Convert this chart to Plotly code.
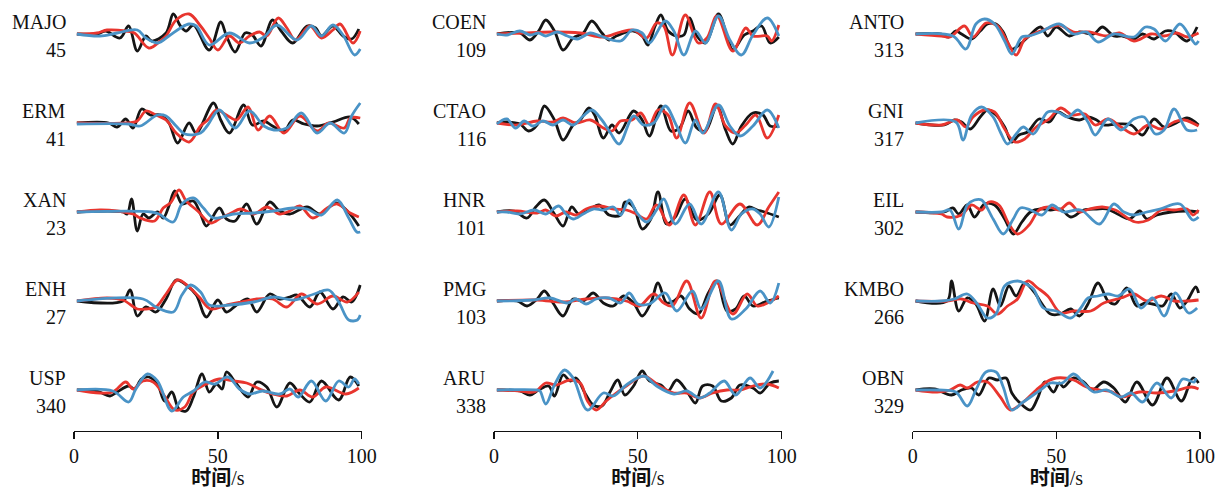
import plotly.graph_objects as go

# ---------------- data (time in s, normalised amplitude) ----------------
columns = [["MAJO", "ERM", "XAN", "ENH", "USP"],
           ["COEN", "CTAO", "HNR", "PMG", "ARU"],
           ["ANTO", "GNI", "EIL", "KMBO", "OBN"]]
azimuths = {"MAJO": "45", "ERM": "41", "XAN": "23", "ENH": "27", "USP": "340",
            "COEN": "109", "CTAO": "116", "HNR": "101", "PMG": "103", "ARU": "338",
            "ANTO": "313", "GNI": "317", "EIL": "302", "KMBO": "266", "OBN": "329"}
x_ticks = [0, 50, 100]
x_title = "<b>时间</b>/s"

MAJO_obs = [(1,0),(8,0),(11,3),(16,-4),(19,8),(22,-17),(25,-2),(27,-7),(32,1),(34.5,20),(37,8),(39,3),(41.5,9),(47,-16),(51,12),(53,-2),(56,-18),(59.5,1),(62,-1),(65,-12),(69,14),(72,3),(76,-9),(81,8),(84,6),(86,-2),(90,8),(93.5,-2),(96.5,-5),(99,5)]
MAJO_syn1 = [(1,0),(8,1),(11.5,4),(18,3),(21,1),(26,-14),(30,-7),(32,-2),(35.5,14),(40,20),(44,8),(47,-4),(50,-16),(54,-2),(57.5,-9),(61,-2),(64.5,2),(67,-2),(71,16),(74,6),(77,-6),(82,8),(86,-4),(90,4),(92.5,10),(97,-9),(99.5,3)]
MAJO_syn2 = [(1,0),(9,-2),(15,1),(22,4),(25,-4),(29,-9),(33,-2),(37,6),(40,10),(42.5,8),(47,-11),(54,1),(61,-9),(66,-3),(70.5,9),(77.5,-6),(82.5,8),(86,-2),(90,9),(93.5,-1),(97.5,-21),(99.5,-15)]

ERM_obs = [(1,0),(12,0),(15,-4),(18,4),(20.5,-5),(23.5,14),(26.5,8),(30,8),(33,0),(36,-20),(40,0),(42.5,-10),(48.5,20),(51,3),(54,-10),(59,18),(62,-2),(66,2),(69,-3),(73,-8),(76,3),(80,-1),(84.5,-3),(90,1),(96,6),(99,-1)]
ERM_syn1 = [(1,0),(18,0),(22,2),(25,12),(28.5,8),(32,3),(35.5,-10),(40,-19),(44,-3),(46.5,3),(49.5,13),(53,8),(56.5,3),(60.5,16),(64,-7),(68,7),(73,-10),(78.5,7),(84.5,-8),(88.5,0),(94,-5),(96,5),(99.5,5)]
ERM_syn2 = [(1,-1),(19,-1),(23,-3),(29,8),(32,7),(35.5,-3),(38.5,-11),(44,-10),(46.5,-2),(50.5,13),(56,-5),(61,12),(66,-3),(69.5,-7),(74,-5),(79,10),(84.5,-10),(89,0),(94,-10),(96.5,7),(99.5,20)]

XAN_obs = [(1,0),(17,0),(18.5,-2),(20,13),(22,-19),(24,-2),(26,-6),(29,0),(31,-6),(33,6),(35,21),(37.5,8),(39,9),(41.5,11),(44,-2),(46,-14),(50.5,4),(53,-7),(56,-9),(60,8),(63.5,-12),(68,10),(71.5,1),(75,-2),(81,5),(85.5,-2),(91,9),(95,1),(99,-14)]
XAN_syn1 = [(1,0),(9,2),(15,1),(20.5,-2),(23,-6),(28,-9),(31,4),(33.5,9),(36.5,22),(39,11),(43,1),(47.5,-11),(51,-6),(54,-2),(58,3),(62.5,-2),(67,5),(71.5,-2),(75,1),(78.5,6),(83,-6),(88,4),(91.5,8),(96,-1),(99,-5)]
XAN_syn2 = [(1,0),(27,0),(29.5,-2),(34.5,-10),(37.5,8),(41.5,14),(45,4),(48.5,-6),(55.5,-2),(62.5,-1),(69.5,1),(76,4),(81,3),(86,-3),(91.5,12),(95.5,-6),(98.3,-20),(99.5,-20)]

ENH_obs = [(1,0),(17,0),(19.5,11),(22,-15),(25,-6),(28.5,-11),(32,2),(35.5,21),(39,16),(42.5,6),(46,-16),(50,1),(53,-11),(56.5,-4),(60.5,2),(63.5,-11),(68,7),(71.5,2),(75,4),(77.5,6),(82,-6),(85.5,9),(90,-8),(93.5,4),(96.5,-1),(99.5,16)]
ENH_syn1 = [(1,0),(11.5,3),(17,1),(22,-8),(25,-8),(28.5,-6),(32,7),(36,21),(40,14),(43.5,4),(47.5,-8),(53,-4),(58,-1),(63.5,2),(69,2),(74,-6),(79,7),(84.5,-3),(90,5),(95,-1),(99,9)]
ENH_syn2 = [(1,0),(24,2),(28.5,-6),(34.5,-11),(37.5,6),(40.5,16),(44,9),(47,-4),(54,-4),(62.5,-1),(69.5,4),(76.5,1),(83.5,7),(88.5,11),(92,-1),(95.5,-19),(98.5,-19),(99.5,-14)]

USP_obs = [(1,0),(8,-1),(12.5,-6),(15,-2),(19,4),(21,1),(23.5,11),(26,13),(29,6),(31.5,-11),(34,-2),(36.5,-19),(39,-21),(41.5,-7),(44.5,16),(47,-2),(49.5,6),(51.5,1),(53,18),(56.5,6),(60.5,-7),(63.5,8),(67,3),(70.5,-17),(75,7),(78.5,-4),(82,-12),(86,9),(92,-10),(96,13),(99,4)]
USP_syn1 = [(1,0),(9,-3),(13.5,-2),(18,8),(20.5,1),(24,9),(27.5,8),(31,-4),(35,-20),(38.5,-17),(41.5,-2),(46,6),(50.5,11),(55.5,9),(60,7),(64.5,1),(69,-4),(74,-6),(78.5,0),(83,-7),(87.5,3),(94.5,-4),(99,2)]
USP_syn2 = [(1,0),(13.5,-1),(19,-12),(21.5,1),(25.5,16),(29,9),(34,-21),(38,-7),(41.5,-1),(45.5,8),(49,6),(53.5,13),(57.5,1),(61,-4),(65.5,-1),(71.5,-4),(75,1),(78,-7),(82.5,9),(87.5,-11),(92,9),(95.5,3),(97.5,11),(99,6)]

COEN_obs = [(1,0),(9,1),(12.5,-6),(15.5,3),(18,14),(21,3),(24,-16),(27.5,-4),(31,1),(34,13),(37.5,1),(40,-6),(42.5,-2),(48.5,3),(51.5,-2),(53.5,-11),(56,8),(58,19),(60.5,3),(63.5,-2),(66,-1),(68,16),(70.5,-2),(73.5,-9),(78,20),(81,-2),(83,-16),(87,-1),(90,3),(93,8),(96,-9),(99,-3)]
COEN_syn1 = [(1,0),(10,1),(20,2),(30,1),(38,-3),(44,2),(48.5,4),(53,-4),(56.5,11),(59,8),(62,-21),(66.5,19),(71,-9),(74,-4),(77.5,18),(83,-17),(87.5,6),(90,-2),(95,-2),(96.5,-7),(99,9)]
COEN_syn2 = [(1,0),(4.5,-1),(9,3),(12.5,-1),(15.5,1),(18,-2),(22,2),(25.5,-2),(29,-5),(33.5,1),(37,-2),(44,-7),(48,4),(51.5,1),(54,-9),(59.5,13),(62.5,3),(66,-21),(70,3),(73.5,-9),(78,18),(82,-6),(86,-21),(90,-1),(95,16),(99,-2)]

CTAO_obs = [(1,0),(4.5,1),(9,-1),(12,-8),(15,-2),(17.5,17),(21,3),(24,-17),(27.5,-2),(30,3),(33,15),(35,8),(38,-15),(41,-2),(43.5,-10),(48.5,12),(51.5,3),(54,-13),(58,17),(61.5,-8),(64.5,-5),(67.5,12),(70.5,-5),(73.5,-8),(77.5,17),(80.5,-7),(83,-21),(86,-3),(90,10),(93.5,8),(96,-3),(99,-3)]
CTAO_syn1 = [(1,0),(8,-2),(15,2),(20.5,1),(24,5),(28.5,0),(33.5,3),(38,-5),(41,-8),(44,2),(48,3),(51,10),(54,-2),(57,13),(60.5,8),(63.5,-15),(68,20),(73,-10),(77,19),(80.5,-3),(84,-10),(87.5,-2),(91,8),(95,-15),(99,8)]
CTAO_syn2 = [(1,-1),(4.5,4),(7.5,-5),(10.5,2),(13.5,-3),(17,2),(20.5,-2),(24,3),(27.5,-2),(31,7),(34,13),(37.5,3),(40.5,-10),(43.5,-21),(48.5,7),(52,-2),(55.5,0),(59.5,17),(63.5,-3),(66.5,-20),(70,3),(72.5,-10),(78,18),(82,-3),(85.5,-13),(90,-3),(95,13),(99,-5)]

HNR_obs = [(1,0),(7,1),(11.5,-6),(14.5,5),(17.5,12),(21,-2),(24,-14),(27,5),(29.5,-2),(33,2),(36.5,7),(40,-3),(44,-3),(45.5,10),(48.5,5),(51.5,-17),(54.5,-7),(57,20),(60,-12),(63,-5),(66.5,13),(70.5,-8),(74.5,-2),(78.5,17),(82,-13),(85,-5),(88.5,5),(91.5,2),(94,0),(99,-5)]
HNR_syn1 = [(1,0),(8,1),(15,-1),(18,2),(21.5,-4),(25,0),(28.5,-3),(32,3),(37,6),(41.5,3),(46,2),(49.5,-2),(53,-7),(56.5,7),(61,-13),(66,17),(70,-13),(75,20),(79,-12),(85.5,8),(91.5,-13),(95.5,5),(99,20)]
HNR_syn2 = [(1,0),(4.5,0),(9,-2),(14,2),(18,-2),(22.5,6),(25,-2),(27.5,-7),(31,-2),(34.5,3),(38,2),(41.5,5),(44,-3),(47,12),(49.5,0),(53,-10),(56.5,2),(59,13),(63,-12),(68,8),(72,-12),(78,20),(82.5,-18),(86,-2),(90,3),(92.5,-2),(95.5,-15),(99,15)]

PMG_obs = [(1,0),(8,0),(11.5,-5),(15,2),(17.5,10),(20.5,-2),(24,-15),(27.5,2),(31,0),(34.5,8),(38,-2),(41.5,-5),(45,5),(48.5,-2),(51.5,-15),(54.5,-2),(57,18),(60,-2),(62.5,0),(65,5),(68,-8),(71,-13),(74.5,8),(77.5,20),(81,-10),(84,-8),(87,5),(90,-5),(95,0),(99,3)]
PMG_syn1 = [(1,0),(15,1),(24,-1),(32,2),(39,3),(46,0),(50.5,-5),(55.5,7),(59,-2),(62,-5),(67,20),(72,-17),(77,20),(83,-13),(88,7),(91.5,-5),(95,-2),(99,5)]
PMG_syn2 = [(1,0),(13.5,1),(19.5,3),(25.5,-2),(28.5,2),(32,-3),(35.5,2),(40,3),(44,-2),(47,8),(50,-3),(54,-3),(59.5,8),(63.5,-10),(69,10),(72,-8),(78,20),(82.5,-18),(87.5,-8),(92.5,10),(96,-2),(99,18)]

ARU_obs = [(1,0),(9,-1),(12.5,-5),(15.5,0),(19,4),(21,-6),(24,15),(26.5,9),(28.5,12),(32,-5),(34.5,-15),(37.5,-16),(40.5,-1),(43,10),(45.5,-5),(48.5,4),(51.5,19),(54,9),(58,5),(60.5,-1),(63.5,10),(67,-1),(70,-13),(72.5,4),(76,4),(79,-11),(82.5,-8),(85.5,5),(90,2),(92.5,-3),(96,7),(99,9)]
ARU_syn1 = [(1,0),(9,-1),(14,-2),(18,7),(21.5,5),(26.5,10),(30,7),(32.5,-11),(35.5,-20),(39,-11),(42.5,-3),(46,4),(52,14),(57.5,4),(62.5,-3),(67,-3),(71.5,-8),(76,-3),(81,0),(85.5,0),(90,4),(95,6),(99,2)]
ARU_syn2 = [(1,0),(15,0),(16,-1),(18,-14),(21,5),(24.5,20),(27.5,12),(32.5,-20),(38,-3),(41.5,-6),(46,5),(52,14),(56.5,4),(62.5,-4),(67,-1),(71.5,-8),(75,-3),(80,9),(84,-5),(89,12),(92.5,2),(97,19)]

ANTO_obs = [(1,0),(10,0),(12.5,-3),(15,3),(17,0),(20.5,-5),(23.5,3),(26,10),(29,10),(31.5,2),(34.5,-15),(37.5,-10),(40.5,-2),(44.5,7),(47,-2),(50,7),(54.5,-2),(58,2),(63,0),(66,7),(70,-2),(73,-2),(77,-5),(80,0),(84,-5),(88,3),(91,2),(95.5,-7),(99,7)]
ANTO_syn1 = [(1,0),(10,-2),(13,-3),(18,8),(21,-3),(25.5,11),(29.5,8),(33,-8),(36,-21),(39,-5),(42,0),(46.5,5),(51,9),(56,2),(61.5,2),(67.5,-2),(72,1),(77,-7),(83,0),(87.5,-2),(92,1),(95.5,-3),(99.5,1)]
ANTO_syn2 = [(1,0),(14,-2),(18.5,-15),(22,10),(25,15),(28.5,10),(32,-7),(34.5,-20),(38,-3),(40.5,-2),(44.5,2),(51,10),(56,0),(60.5,2),(64.5,-8),(70,0),(77,-3),(81,7),(84,5),(88,-7),(93,10),(97,-5),(98.5,-10),(99.5,-7)]

GNI_obs = [(1,0),(11,-2),(14.5,3),(17,1),(20,-6),(23.5,6),(26,13),(29,8),(32,-4),(34.5,-19),(37,-12),(40,-9),(44,4),(47.5,1),(50.5,11),(54,6),(58,3),(61,6),(64,3),(66.5,-2),(71,-1),(76,-2),(80,-12),(84,4),(87.5,-4),(91,-1),(95.5,5),(99.5,-2)]
GNI_syn1 = [(1,0),(10,-2),(15.5,3),(18.5,-4),(21,6),(25,13),(28.5,11),(32,-6),(35.5,-19),(39,-16),(43,-4),(47.5,4),(51.5,15),(55.5,8),(60,9),(63.5,-2),(68,4),(72.5,-4),(77,-11),(82,-2),(86.5,-6),(91,1),(94.5,3),(99.5,-3)]
GNI_syn2 = [(1,0),(15,1),(17.5,-17),(20.5,8),(24,16),(28,6),(30.5,-9),(33,-21),(36,-11),(38.5,-4),(42,-11),(47,11),(50.5,11),(54,6),(57.5,13),(61,1),(63.5,-12),(68,4),(72.5,-7),(77,4),(80.5,6),(84.5,-11),(87.5,-7),(91,14),(95.5,-7),(99,-7)]

EIL_obs = [(1,0),(11,0),(14,4),(16,-2),(19,7),(21.5,-5),(25,8),(28.5,7),(32,-7),(35,-22),(38,-10),(41,0),(44.5,3),(48,2),(51.5,3),(55,-5),(59.5,2),(64,3),(67.5,3),(72,-3),(75.5,-7),(79,1),(81.5,-7),(85,-3),(90,0),(95.5,1),(99.5,0)]
EIL_syn1 = [(1,0),(10,-2),(12,-5),(17,-3),(20.5,7),(24,2),(26.5,10),(30,7),(33.5,-12),(36.5,-22),(40.5,-13),(44,2),(47.5,5),(51,2),(54.5,9),(58,0),(61.5,3),(66,5),(70.5,2),(77.5,-10),(82,-8),(86.5,2),(91,2),(95.5,3),(97.5,-3),(99.5,2)]
EIL_syn2 = [(1,0),(10,0),(13,2),(16,-17),(19,7),(21.5,12),(24,12),(28,-7),(31.5,-22),(35,-7),(37.5,4),(41,2),(45,-3),(48.5,7),(52.5,0),(58.5,2),(65,-12),(70,8),(73.5,0),(77,-3),(81.5,0),(86,3),(93,8),(97.5,-8),(99.5,-5)]

KMBO_obs = [(1,0),(12,0),(13.5,20),(16,-10),(19,3),(22,-3),(25,-20),(28,12),(30.5,-5),(33.5,15),(36,5),(39,18),(42,10),(45.5,-5),(48,-13),(51.5,-13),(55,-8),(58,-15),(61,-3),(64.5,18),(68,0),(70.5,-3),(74.5,13),(78,-5),(81,-2),(83.5,-3),(87,-5),(90,7),(93,-7),(95.5,0),(98.5,14),(99.5,8)]
KMBO_syn1 = [(1,0),(12,0),(17,2),(21,-2),(26,-5),(29.5,-13),(33,-5),(36.5,2),(40,20),(43.5,13),(47,5),(51.5,-12),(56,-10),(62,-10),(66.5,-2),(72.5,3),(77,7),(81.5,0),(86.5,5),(91,0),(95.5,0),(99.5,1)]
KMBO_syn2 = [(1,0),(10,0),(14.5,2),(19,7),(22.5,-3),(26,-17),(29,-13),(32,15),(36.5,20),(39.5,17),(42,12),(45.5,-7),(50,-10),(55,-17),(58.5,-7),(61,3),(64.5,5),(68,7),(71.5,5),(75.5,12),(79.5,-7),(83.5,3),(87.5,-15),(91.5,8),(96,-12),(99,-7)]

OBN_obs = [(1,0),(7.5,1),(13.5,-5),(17,0),(20.5,2),(23,-5),(26.5,12),(29.5,10),(32.5,12),(34.5,-3),(37,-12),(41,-20),(43.5,-8),(46,8),(49,-2),(51,7),(52.5,3),(56,12),(59.5,8),(62.5,0),(66.5,8),(70,2),(74,-12),(78,8),(83.5,-15),(88.5,12),(93.5,-11),(97.5,12),(99.5,7)]
OBN_syn1 = [(1,0),(8.5,-2),(13,0),(16.5,5),(19,2),(22.5,8),(26,8),(30.5,-7),(34,-20),(38.5,-12),(43,0),(46.5,8),(50,12),(56,10),(60.5,3),(65,0),(69.5,-2),(72.5,-7),(79,-2),(85,-3),(91,-1),(97,3),(99.5,1)]
OBN_syn2 = [(1,0),(9,0),(15,-2),(19,-16),(22,0),(25.5,18),(29,18),(31.5,3),(34.5,-20),(38,-13),(41,-7),(44.5,0),(48,7),(52,7),(56,16),(59.5,7),(63,-2),(67.5,0),(72.5,-7),(76,-3),(80,-12),(85,7),(90,-8),(94,11),(98,8),(98.5,12)]

# ---------------- styling / layout ----------------
W, H = 1218, 490
AXIS_Y = 431                      # x-axis line position (px from top)
MARGIN_B = H - AXIS_Y
FIRST_BASE = 34                   # first trace baseline (px from top of plot area)
ROW_STEP = 89                     # px between trace baselines
COLORS = {"obs": "#151515", "syn1": "#e8352e", "syn2": "#4a93c6"}
SERIF = "Liberation Serif, Times New Roman, serif"
col_px = [(74.0, 361.7), (494.0, 781.7), (912.7, 1200.0)]

g = globals()
fig = go.Figure()
for ci, stations in enumerate(columns):
    xa = "x" if ci == 0 else f"x{ci+1}"
    ya = "y" if ci == 0 else f"y{ci+1}"
    label_x = (col_px[ci][0] - 6.5) / W
    for ri, st in enumerate(stations):
        base = -(FIRST_BASE + ROW_STEP * ri)
        for kind in ("obs", "syn1", "syn2"):
            pts = g[f"{st}_{kind}"]
            fig.add_trace(go.Scatter(
                x=[p[0] for p in pts], y=[base + p[1] for p in pts],
                mode="lines", line=dict(color=COLORS[kind], width=2.8, shape="spline", smoothing=1.0),
                xaxis=xa, yaxis=ya, showlegend=False, hoverinfo="skip"))
        fig.add_annotation(x=label_x, y=base + 12.5, xref="paper", yref=ya, text=st, showarrow=False,
                           xanchor="right", yanchor="middle", font=dict(family=SERIF, size=20, color="#111"))
        fig.add_annotation(x=label_x, y=base - 16, xref="paper", yref=ya, text=azimuths[st], showarrow=False,
                           xanchor="right", yanchor="middle", font=dict(family=SERIF, size=20, color="#111"))

layout = dict(width=W, height=H, margin=dict(l=0, r=0, t=0, b=MARGIN_B, autoexpand=False),
              paper_bgcolor="white", plot_bgcolor="white", showlegend=False)
for ci, (x0, x1) in enumerate(col_px):
    sx = "" if ci == 0 else str(ci + 1)
    layout[f"xaxis{sx}"] = dict(
        domain=[x0 / W, x1 / W], range=[0, 100], tickvals=x_ticks, ticks="outside", ticklen=7,
        tickwidth=1.3, tickcolor="#111", showline=True, linecolor="#111", linewidth=1.3,
        showgrid=False, zeroline=False, anchor=f"y{sx}", automargin=False,
        tickfont=dict(family=SERIF, size=20, color="#111"),
        title=dict(text=x_title, font=dict(family="Liberation Serif, Noto Sans CJK SC", size=20, color="#111"), standoff=2))
    layout[f"yaxis{sx}"] = dict(domain=[0, 1], range=[-AXIS_Y, 0], visible=False, anchor=f"x{sx}",
                                 fixedrange=True, automargin=False)
fig.update_layout(**layout)
fig.write_html("out.html", config={"displayModeBar": False, "staticPlot": True},
               post_script="document.body.style.margin='0';document.body.style.overflow='hidden';")
